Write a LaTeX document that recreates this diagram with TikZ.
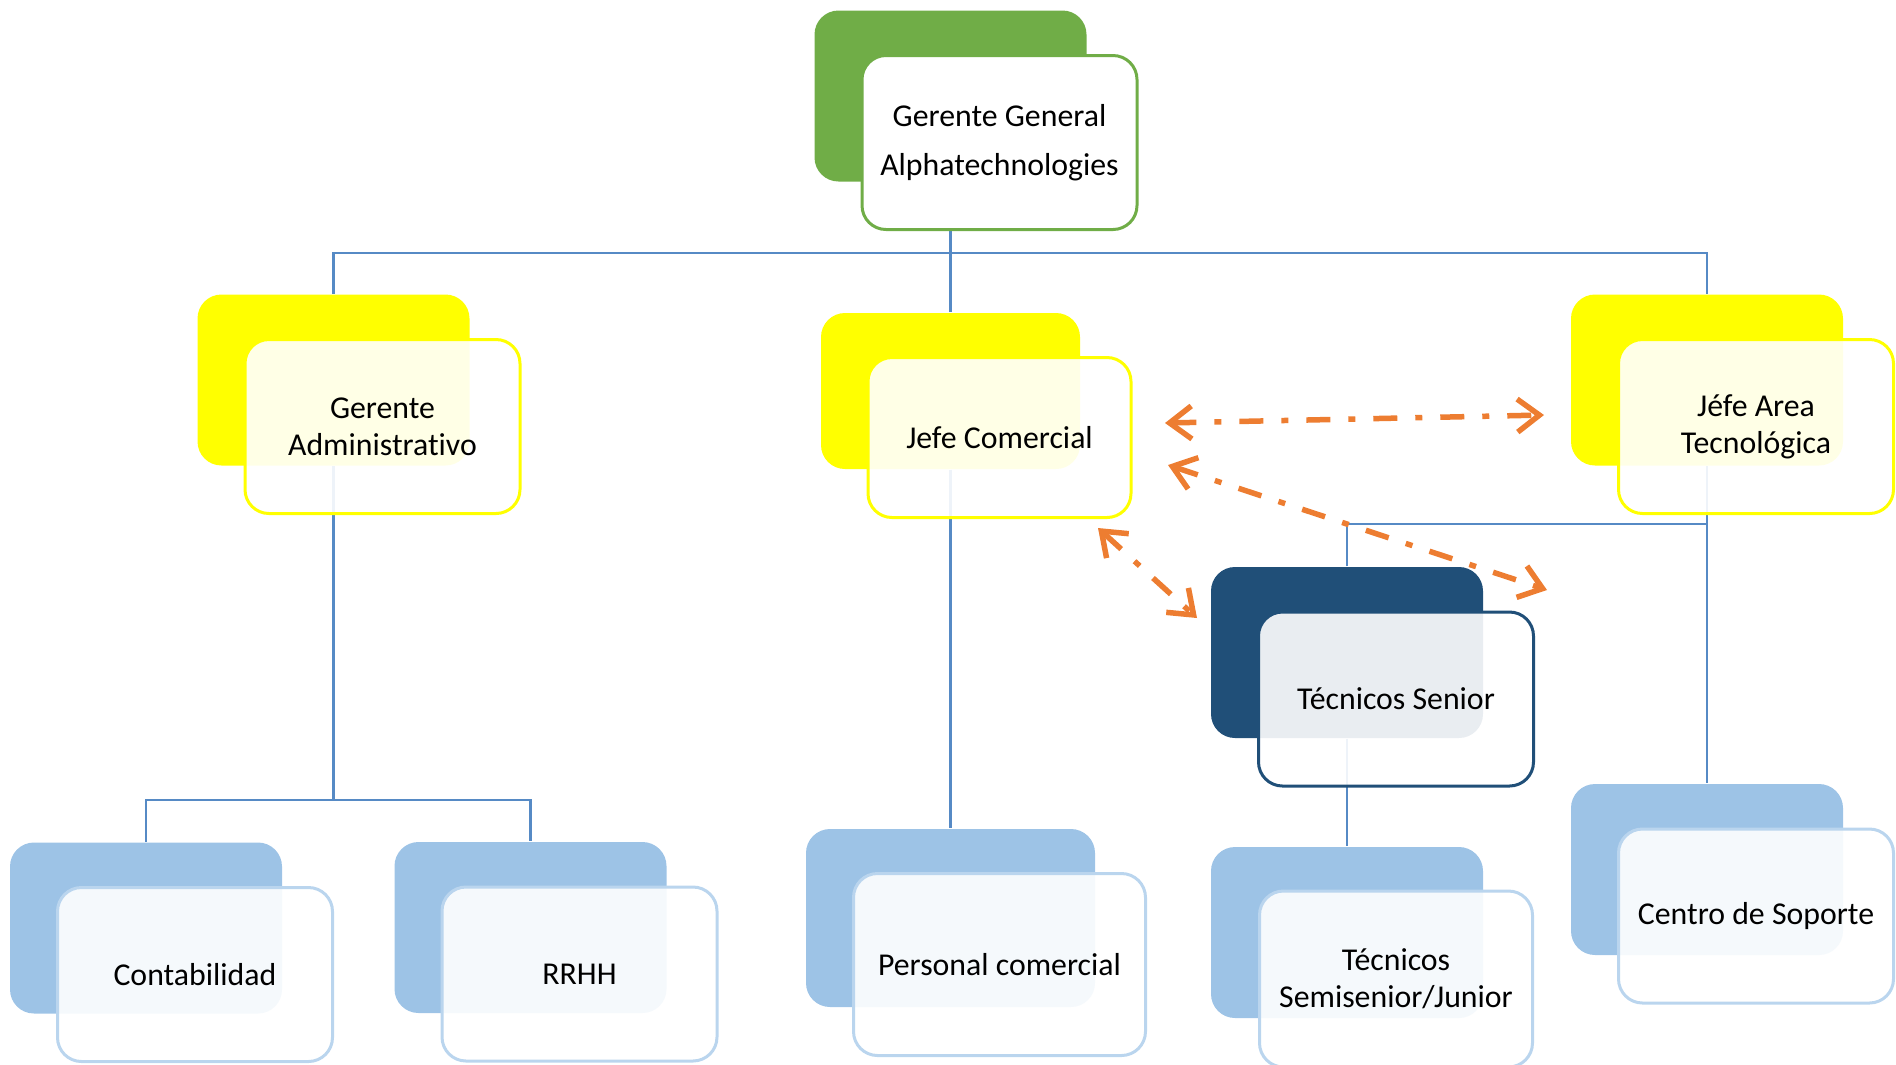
\documentclass[tikz,border=0pt]{standalone}
\usepackage{fontspec}
\setmainfont{Carlito}[Ligatures=NoCommon]
\usetikzlibrary{arrows.meta,backgrounds}

\definecolor{verde}{RGB}{112,173,71}
\definecolor{amarillo}{RGB}{255,255,0}
\definecolor{azuloscuro}{RGB}{32,79,120}
\definecolor{azulclaro}{RGB}{157,195,230}
\definecolor{azulborde}{RGB}{186,213,238}
\definecolor{linea}{RGB}{86,138,197}
\definecolor{naranja}{RGB}{237,125,49}

\begin{document}
\begin{tikzpicture}[
    font=\fontsize{9.05}{10.5}\selectfont,
    backbox/.style={fill=#1, rounded corners=0.24cm, minimum width=2.72cm, minimum height=1.71cm, inner sep=0pt},
    frontbox/.style={draw=#1, line width=0.03cm, fill=white, fill opacity=0.9, text opacity=1,
        rounded corners=0.24cm, minimum width=2.75cm, minimum height=1.74cm, inner sep=0pt, align=center},
    conn/.style={draw=linea, line width=0.025cm},
    relarrow/.style={draw=naranja, line width=0.055cm, dash pattern=on 0.24cm off 0.18cm on 0.07cm off 0.18cm,
        >={Straight Barb[length=0.22cm,width=0.33cm]}, <->}
]
    \useasboundingbox (0,0) rectangle (18.96,-10.64);
    \coordinate (bus1) at (9.505,-2.53);
    \coordinate (bus2) at (3.335,-8.00);
    \coordinate (bus3) at (17.07,-5.24);
    \node[backbox=verde] (gg) at (9.505,-0.96) {};
    \node[frontbox=verde, fill opacity=1] (ggt) at ([shift={(0.49,-0.465)}]gg.center) {Gerente General\\[3.5pt]Alphatechnologies};
    \begin{scope}
        \node[backbox=amarillo] (ga) at (3.335,-3.80) {};
        \node[frontbox=amarillo] (gat) at ([shift={(0.49,-0.465)}]ga.center) {Gerente\\Administrativo};
        \node[backbox=amarillo, minimum width=2.59cm, minimum height=1.56cm] (jc) at (9.505,-3.91) {};
        \node[frontbox=amarillo, minimum width=2.63cm, minimum height=1.60cm] (jct) at ([shift={(0.49,-0.465)}]jc.center) {Jefe Comercial};
        \node[backbox=amarillo] (jt) at (17.07,-3.80) {};
        \node[frontbox=amarillo] (jtt) at ([shift={(0.49,-0.465)}]jt.center) {Jéfe Area\\Tecnológica};
    \end{scope}
    \node[backbox=azuloscuro] (ts) at (13.47,-6.525) {};
    \node[frontbox=azuloscuro] (tst) at ([shift={(0.49,-0.465)}]ts.center) {Técnicos Senior};
    \begin{scope}
        \node[backbox=azulclaro] (co) at (1.46,-9.28) {};
        \node[frontbox=azulborde] (cot) at ([shift={(0.49,-0.465)}]co.center) {Contabilidad};
        \node[backbox=azulclaro] (rh) at (5.305,-9.275) {};
        \node[frontbox=azulborde] (rht) at ([shift={(0.49,-0.465)}]rh.center) {RRHH};
        \node[backbox=azulclaro, minimum width=2.89cm, minimum height=1.78cm] (pc) at (9.505,-9.18) {};
        \node[frontbox=azulborde, minimum width=2.92cm, minimum height=1.82cm] (pct) at ([shift={(0.49,-0.465)}]pc.center) {Personal comercial};
        \node[backbox=azulclaro] (tj) at (13.47,-9.325) {};
        \node[frontbox=azulborde, minimum width=2.73cm, minimum height=1.76cm] (tjt) at ([shift={(0.49,-0.465)}]tj.center) {Técnicos\\Semisenior/Junior};
        \node[backbox=azulclaro] (cs) at (17.07,-8.695) {};
        \node[frontbox=azulborde] (cst) at ([shift={(0.49,-0.465)}]cs.center) {Centro de Soporte};
    \end{scope}
    \begin{scope}[on background layer]
        \draw[conn] (gg.south) -- (jc.north);
        \draw[conn] (ga.north) |- (bus1) -| (jt.north);
        \draw[conn] (ga.south) -- (bus2);
        \draw[conn] (co.north) |- (bus2) -| (rh.north);
        \draw[conn] (jc.south) -- (pc.north);
        \draw[conn] (jt.south) -- (cs.north);
        \draw[conn] (ts.north) |- (bus3);
        \draw[conn] (ts.south) -- (tj.north);
    \end{scope}
    \coordinate (r1a) at (11.65,-4.23);
    \coordinate (r1b) at (15.44,-4.15);
    \coordinate (r2a) at (11.68,-4.65);
    \coordinate (r2b) at (15.47,-5.90);
    \coordinate (r3a) at (10.98,-5.28);
    \coordinate (r3b) at (11.97,-6.18);
    \draw[relarrow] (r1a) -- (r1b);
    \draw[relarrow] (r2a) -- (r2b);
    \draw[relarrow] (r3a) -- (r3b);
\end{tikzpicture}
\end{document}
